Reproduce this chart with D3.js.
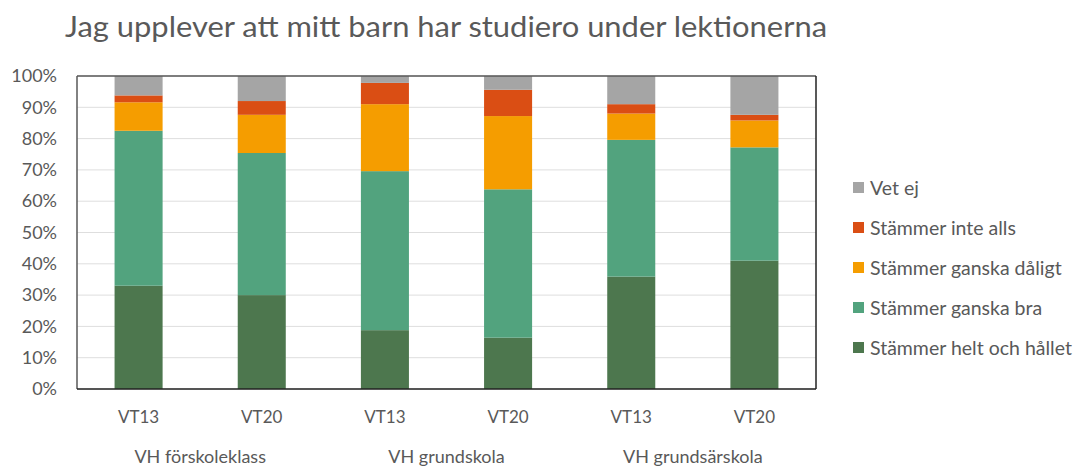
<!DOCTYPE html>
<html>
<head>
<meta charset="utf-8">
<script src="https://cdn.jsdelivr.net/npm/d3@7"></script>
<style>
  body { margin: 0; background: #fff; }
  text { font-family: Lato, "Open Sans", sans-serif; fill: #595959; }
</style>
</head>
<body>
<svg id="chart" width="1075" height="468"></svg>
<script>
const groups = ['VH förskoleklass', 'VH grundskola', 'VH grundsärskola'];
const periods = ['VT13', 'VT20'];
const seriesNames = ['Stämmer helt och hållet', 'Stämmer ganska bra', 'Stämmer ganska dåligt', 'Stämmer inte alls', 'Vet ej'];
const seriesColors = ['#4d774e', '#52a37e', '#f59d00', '#da4e14', '#a5a5a5'];

// one value per bar, in order: förskoleklass VT13, VT20, grundskola VT13, VT20, grundsärskola VT13, VT20
const heltOchHallet = [33.0, 30.0, 18.8, 16.4, 35.9, 41.0];
const ganskaBra = [49.5, 45.4, 50.8, 47.4, 43.7, 36.2];
const ganskaDaligt = [9.1, 12.2, 21.4, 23.4, 8.4, 8.6];
const inteAlls = [2.2, 4.4, 6.8, 8.4, 3.0, 1.8];
const vetEj = [6.2, 8.0, 2.2, 4.4, 9.0, 12.4];

const yTicks = [0, 10, 20, 30, 40, 50, 60, 70, 80, 90, 100];

const seriesValues = [heltOchHallet, ganskaBra, ganskaDaligt, inteAlls, vetEj];
const bars = [];
groups.forEach((g, gi) => periods.forEach((p, pi) => {
  const i = gi * periods.length + pi;
  const row = { key: g + '|' + p, group: g, period: p };
  seriesNames.forEach((s, si) => { row[s] = seriesValues[si][i]; });
  bars.push(row);
}));

const plotLeft = 77;
const plotRight = 816;
const plotTop = 76;
const plotBottom = 389;

const svg = d3.select('#chart');

const xscale = d3.scaleBand()
  .domain(bars.map((d) => d.key))
  .range([plotLeft, plotRight])
  .paddingInner(0.61)
  .paddingOuter(0.305);

const yscale = d3.scaleLinear()
  .domain([0, 100])
  .range([plotBottom, plotTop]);

const color = d3.scaleOrdinal()
  .domain(seriesNames)
  .range(seriesColors);

// title
svg.append('text')
  .text('Jag upplever att mitt barn har studiero under lektionerna')
  .attr('x', 65)
  .attr('y', 37)
  .attr('textLength', 762)
  .attr('lengthAdjust', 'spacingAndGlyphs')
  .style('font-size', '29px');

// gridlines
svg.append('g')
  .selectAll('line')
  .data(yTicks)
  .enter()
  .append('line')
  .attr('x1', plotLeft)
  .attr('x2', plotRight)
  .attr('y1', (d) => yscale(d))
  .attr('y2', (d) => yscale(d))
  .attr('stroke', '#dedede')
  .attr('stroke-width', 1);

// y axis labels
const leftAxis = d3.axisLeft(yscale)
  .tickValues(yTicks)
  .tickFormat((d) => d + '%')
  .tickSize(0)
  .tickPadding(20);

const yAxis = svg.append('g')
  .attr('transform', `translate(${plotLeft}, 0)`)
  .call(leftAxis);
yAxis.select('.domain').remove();
yAxis.selectAll('text')
  .style('font-size', '18px')
  .style('font-family', 'Lato, sans-serif')
  .attr('fill', '#595959');

// stacked bars
const stacked = d3.stack().keys(seriesNames)(bars);

svg.append('g')
  .selectAll('g')
  .data(stacked)
  .enter()
  .append('g')
  .attr('fill', (d) => color(d.key))
  .selectAll('rect')
  .data((d) => d)
  .enter()
  .append('rect')
  .attr('x', (d) => xscale(d.data.key))
  .attr('y', (d) => yscale(d[1]))
  .attr('width', xscale.bandwidth())
  .attr('height', (d) => yscale(d[0]) - yscale(d[1]));

// plot frame
svg.append('line').attr('x1', plotLeft).attr('x2', plotLeft).attr('y1', plotTop).attr('y2', plotBottom)
  .attr('stroke', '#595959').attr('stroke-width', 1.5);
svg.append('line').attr('x1', plotLeft).attr('x2', plotRight).attr('y1', plotTop).attr('y2', plotTop)
  .attr('stroke', '#595959').attr('stroke-width', 1.5);
svg.append('line').attr('x1', plotRight).attr('x2', plotRight).attr('y1', plotTop).attr('y2', plotBottom)
  .attr('stroke', '#222').attr('stroke-width', 1.5);
svg.append('line').attr('x1', plotLeft).attr('x2', plotRight).attr('y1', plotBottom).attr('y2', plotBottom)
  .attr('stroke', '#222').attr('stroke-width', 1.5);

// x axis: periods
const bottomAxis = d3.axisBottom(xscale)
  .tickFormat((d) => d.split('|')[1])
  .tickSize(0)
  .tickPadding(22);

const xAxis = svg.append('g')
  .attr('transform', `translate(0, ${plotBottom})`)
  .call(bottomAxis);
xAxis.select('.domain').remove();
xAxis.selectAll('text')
  .style('font-size', '17px')
  .style('font-family', 'Lato, sans-serif')
  .attr('fill', '#595959');

// x axis: groups
svg.append('g')
  .selectAll('text')
  .data(groups)
  .enter()
  .append('text')
  .text((d) => d)
  .attr('x', (d) => {
    const a = xscale(d + '|' + periods[0]);
    const b = xscale(d + '|' + periods[periods.length - 1]);
    return (a + b) / 2 + xscale.bandwidth() / 2;
  })
  .attr('y', 463)
  .attr('text-anchor', 'middle')
  .style('font-size', '18px');

// legend
const legend = svg.append('g')
  .selectAll('g')
  .data(seriesNames.slice().reverse())
  .enter()
  .append('g')
  .attr('transform', (d, i) => `translate(853, ${188 + i * 40})`);

legend.append('rect')
  .attr('x', 0)
  .attr('y', -6)
  .attr('width', 11)
  .attr('height', 11)
  .attr('fill', (d) => color(d));

legend.append('text')
  .text((d) => d)
  .attr('x', 17)
  .attr('y', 7)
  .style('font-size', '19.5px');
</script>
</body>
</html>
